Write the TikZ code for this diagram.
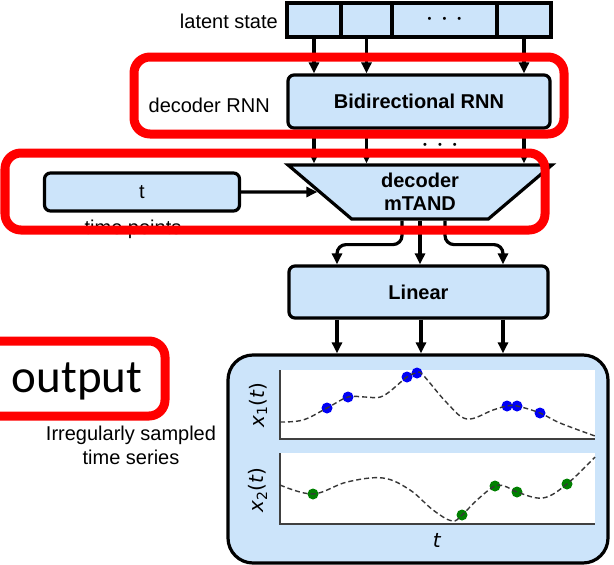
\documentclass[tikz,border=0pt]{standalone}
\usepackage{fontspec}
\setmainfont{Liberation Sans}
\newfontfamily\slidefont{Carlito}
\newfontfamily\plotfont{DejaVu Sans}
\usetikzlibrary{arrows.meta,positioning,shapes.geometric,calc}
\definecolor{boxblue}{RGB}{204,228,250}
\definecolor{curvegray}{RGB}{55,55,55}
\definecolor{dotblue}{RGB}{0,0,245}
\definecolor{dotgreen}{RGB}{0,128,0}
\tikzset{
  block/.style={draw, line width=3.2pt, rounded corners=6pt, fill=boxblue, inner sep=0pt, align=center, font=\fontsize{20}{23}\selectfont\bfseries},
  cell/.style={draw, line width=3.2pt, fill=boxblue, inner sep=0pt, minimum height=34pt, font=\fontsize{20}{22}\selectfont},
  tag/.style={inner sep=0pt, align=center, font=\fontsize{20}{24}\selectfont},
  axlabel/.style={inner sep=0pt, font=\plotfont\fontsize{20}{22}\selectfont},
  arrow/.style={-{Triangle[length=11pt,width=10pt]}, line width=3.2pt},
  highlight/.style={draw=red, line width=9pt, rounded corners=16pt},
  axis/.style={line width=1.5pt, draw=black!75},
  curve/.style={dash pattern=on 5pt off 3pt, line width=1.4pt, curvegray},
  sample/.style={circle, inner sep=0pt, minimum size=11pt}
}
\newcommand{\gapdots}{{\fontsize{11}{11}\selectfont\textbullet\hspace{11pt}\textbullet\hspace{11pt}\textbullet}}

\begin{document}
\begin{tikzpicture}[x=1pt,y=-1pt]
  \clip (0,0) rectangle (614,565);
  % encoder output
  \node[cell,minimum width=54pt] (lat1) at (314,20) {};
  \node[cell,minimum width=51pt] (lat2) at (366.5,20) {};
  \node[cell,minimum width=105pt] (lat3) at (444.5,20) {\gapdots};
  \node[cell,minimum width=54pt] (lat4) at (524,20) {};
  \node[tag,anchor=east] (latlabel) at (278,21) {latent state};
  % decoder
  \node[block,minimum width=262pt,minimum height=53pt] (rnn) at (419,101.5) {Bidirectional RNN};
  \node[tag,anchor=east] (rnnlabel) at (270,105) {decoder RNN};
  \node[trapezium,trapezium left angle=134,trapezium right angle=134,trapezium stretches=true,
        draw,line width=3.2pt,fill=boxblue,inner sep=0pt,align=center,
        minimum width=264pt,minimum height=54pt,font=\fontsize{20}{23}\selectfont\bfseries] (mtand) at (420,192) {decoder\\mTAND};
  \node[tag] (rnndots) at (440,146) {\gapdots};
  \node[block,font=\fontsize{20}{22}\selectfont,minimum width=195pt,minimum height=38pt] (tbox) at (142,192) {t};
  \node[tag] (tlabel) at (133,229) {time points};
  \node[block,minimum width=259pt,minimum height=52pt] (linear) at (418.5,292) {Linear};
  \node[draw,line width=3.2pt,rounded corners=25pt,fill=boxblue,inner sep=0pt,
        minimum width=380pt,minimum height=208pt] (outbox) at (418,459) {};
  \node[tag] (serieslabel) at (131,445) {Irregularly sampled\\time series};
  % connectors
  \foreach \c in {lat1,lat2,lat4} {
    \draw[arrow] (\c.south) -- (\c |- rnn.north);
    \draw[arrow] (\c |- rnn.south) -- (\c |- mtand.north);
  }
  \draw[arrow] (tbox) -- (mtand);
  \draw[arrow,rounded corners=9pt] ([xshift=-18pt]mtand.south) -- ++(0,24) -| ($(linear.north)+(-81.5,0)$);
  \draw[arrow] (mtand.south) -- (mtand.south |- linear.north);
  \draw[arrow,rounded corners=9pt] ([xshift=25pt]mtand.south) -- ++(0,24) -| ($(linear.north)+(84.5,0)$);
  \foreach \dx in {-81.5,2.5,84.5}
    \draw[arrow] ($(linear.south)+(\dx,0)$) -- ($(linear.south |- outbox.north)+(\dx,0)$);
  % plots
  \fill[white] (280,370) rectangle (595,439);
  \draw[axis] (280,370) -- (280,439) -- (595,439);
  \fill[white] (280,453) rectangle (595,524);
  \draw[axis] (280,453) -- (280,524) -- (595,524);
  \foreach \p in {(327,408),(348,397),(407,377),(417,373),(507,406),(517,406),(540,413)}
    \node[sample,fill=dotblue] at \p {};
  \foreach \p in {(313,494),(462,515),(495,486),(517,492),(567,484)}
    \node[sample,fill=dotgreen] at \p {};
  \draw[curve] plot[smooth,tension=0.6] coordinates {(280,422) (303,420) (327,408) (348,397) (365,397) (383,396) (407,377) (417,373) (423,375) (447,403) (467,419) (493,410) (507,406) (517,406) (540,413) (560,423) (595,436)};
  \draw[curve] plot[smooth,tension=0.6] coordinates {(280,485) (313,494) (347,482) (383,478) (410,490) (433,510) (452,521) (462,515) (477,500) (495,486) (507,487) (517,492) (543,498) (567,484) (595,457)};
  \node[axlabel,rotate=90] (xonelabel) at (258,405) {\textit{x}\textsubscript{1}(\textit{t})};
  \node[axlabel,rotate=90] (xtwolabel) at (258,490) {\textit{x}\textsubscript{2}(\textit{t})};
  \node[axlabel] (tplotlabel) at (437,540) {\textit{t}};
  % highlights
  \draw[highlight] (134,57) rectangle (564,134);
  \draw[highlight] (5,153) rectangle (545,230);
  \draw[highlight] (-20,341) rectangle (165,416);
  \node[font=\slidefont\fontsize{47}{50}\selectfont,inner sep=0pt] (outlabel) at (77,381) {output};
\end{tikzpicture}
\end{document}
